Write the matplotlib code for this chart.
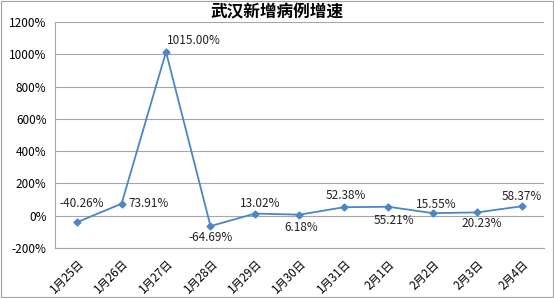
import matplotlib.pyplot as plt
from matplotlib.ticker import FuncFormatter
from matplotlib.patches import Rectangle

plt.rcParams['font.family'] = ['Noto Sans CJK SC', 'DejaVu Sans']

dates = ['1月25日', '1月26日', '1月27日', '1月28日', '1月29日', '1月30日',
         '1月31日', '2月1日', '2月2日', '2月3日', '2月4日']
growth = [-40.26, 73.91, 1015.00, -64.69, 13.02, 6.18, 52.38, 55.21, 15.55, 20.23, 58.37]
# label placement: offset in pixels (dx, dy) relative to each point
label_offsets = [(5, 19), (27, 0), (28, 11), (0, -11), (5, 10), (2, -13),
                 (2, 12), (6, -14), (3, 9), (4, -11), (0, 10)]

fig = plt.figure(figsize=(5.54, 2.98), dpi=100)
ax = fig.add_axes([0.099, 0.168, 0.883, 0.758])

x = list(range(len(dates)))
ax.plot(x, growth, color='#4A86C8', linewidth=1.3, marker='D', markersize=3.5,
        markerfacecolor='#4A86C8', markeredgecolor='#4A86C8', clip_on=False)

for i, v in enumerate(growth):
    dx, dy = label_offsets[i]
    ax.annotate(f'{v:.2f}%', (i, v), xytext=(dx * 0.72, dy * 0.72),
                textcoords='offset points', ha='center', va='center',
                fontsize=8.5, color='#222222')

ax.set_xlim(-0.5, len(dates) - 0.5)
ax.set_ylim(-200, 1200)
ax.set_yticks(range(-200, 1201, 200))
ax.yaxis.set_major_formatter(FuncFormatter(lambda v, p: f'{v:.0f}%'))
ax.set_xticks(x)
ax.set_xticklabels(dates, rotation=45, ha='right', rotation_mode='anchor', fontsize=8.3)
ax.tick_params(axis='y', labelsize=8.5, length=0, pad=6)
ax.tick_params(axis='x', length=0, pad=7)
ax.grid(axis='y', color='#A6A6A6', linewidth=0.8)
ax.set_axisbelow(True)
for s in ax.spines.values():
    s.set_visible(False)
for side in ['bottom', 'left']:
    ax.spines[side].set_visible(True)
    ax.spines[side].set_color('#A6A6A6')
    ax.spines[side].set_linewidth(0.8)

fig.text(0.5, 0.958, '武汉新增病例增速', ha='center', va='center',
         fontsize=12, fontweight='bold')
fig.patches.append(Rectangle((0.002, 0.003), 0.996, 0.994, transform=fig.transFigure,
                             fill=False, edgecolor='#A0A0A0', linewidth=0.8))

fig.savefig('out.png', dpi=100)
